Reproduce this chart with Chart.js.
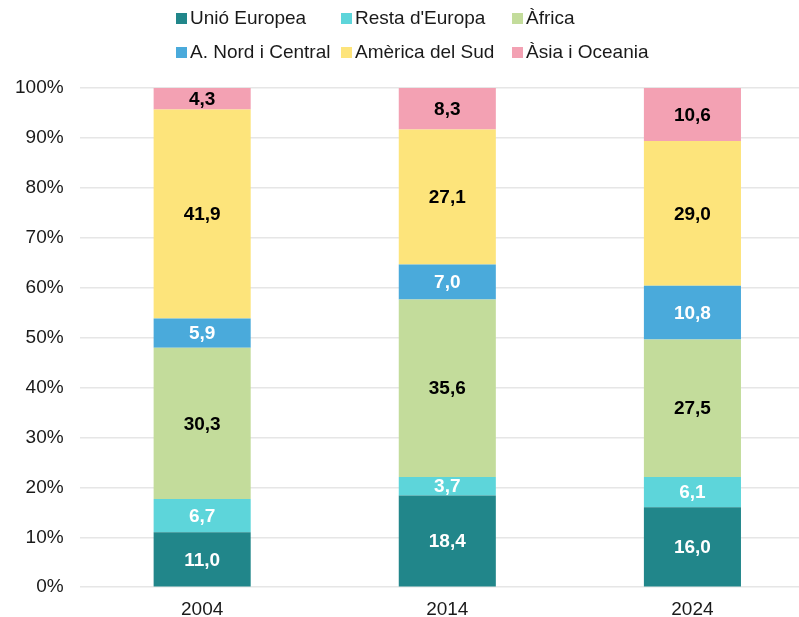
<!DOCTYPE html>
<html>
<head>
<meta charset="utf-8">
<script src="https://cdn.jsdelivr.net/npm/chart.js@4"></script>
<style>
  html, body { margin: 0; padding: 0; background: #fff; overflow: hidden; }
  #wrap { position: relative; width: 799px; height: 617px; overflow: hidden; }
  #legend {
    position: absolute; left: 176px; top: 7px;
    display: grid; grid-template-columns: 165px 171px auto;
    row-gap: 12px;
    font-family: "Liberation Sans", Arial, sans-serif; font-size: 19px; color: #1a1a1a;
    line-height: 22px;
  }
  .item { display: flex; align-items: center; white-space: nowrap; }
  .box { width: 11px; height: 11px; margin-right: 3px; flex: none; }
  canvas { display: block; }
</style>
</head>
<body>
<div id="wrap">
  <canvas id="c" width="815" height="617"></canvas>
  <div id="legend"></div>
</div>
<script>
const categories = ["2004", "2014", "2024"];
const seriesNames = ["Unió Europea", "Resta d'Europa", "Àfrica", "A. Nord i Central", "Amèrica del Sud", "Àsia i Oceania"];
const unioEuropea = [11.0, 18.4, 16.0];
const restaEuropa = [6.7, 3.7, 6.1];
const africa = [30.3, 35.6, 27.5];
const nordCentral = [5.9, 7.0, 10.8];
const americaSud = [41.9, 27.1, 29.0];
const asiaOceania = [4.3, 8.3, 10.6];
const yTicks = [0, 10, 20, 30, 40, 50, 60, 70, 80, 90, 100];

const seriesValues = [unioEuropea, restaEuropa, africa, nordCentral, americaSud, asiaOceania];
const colors = ["#21868a", "#5dd5da", "#c3dc9b", "#4aaadb", "#fde47b", "#f3a1b3"];
const labelColors = ["#ffffff", "#ffffff", "#000000", "#ffffff", "#000000", "#000000"];

const totals = categories.map((_, i) => seriesValues.reduce((s, arr) => s + arr[i], 0));

const datasets = seriesNames.map((name, k) => ({
  label: name,
  data: seriesValues[k].map((v, i) => v / totals[i] * 100),
  raw: seriesValues[k],
  backgroundColor: colors[k],
  borderWidth: 0,
  barPercentage: 0.396,
  categoryPercentage: 1.0,
  labelColor: labelColors[k]
}));

// HTML legend in Excel order (3 columns)
const legendEl = document.getElementById('legend');
seriesNames.forEach((name, k) => {
  const it = document.createElement('div');
  it.className = 'item';
  const b = document.createElement('span');
  b.className = 'box';
  b.style.background = colors[k];
  const t = document.createElement('span');
  t.textContent = name;
  it.appendChild(b); it.appendChild(t);
  legendEl.appendChild(it);
});

const fontFam = '"Liberation Sans", Arial, sans-serif';

const valueLabels = {
  id: 'valueLabels',
  afterDatasetsDraw(chart) {
    const ctx = chart.ctx;
    ctx.save();
    ctx.font = 'bold 19px ' + fontFam;
    ctx.textAlign = 'center';
    ctx.textBaseline = 'middle';
    chart.data.datasets.forEach((ds, di) => {
      const meta = chart.getDatasetMeta(di);
      meta.data.forEach((el, i) => {
        const txt = ds.raw[i].toFixed(1).replace('.', ',');
        ctx.fillStyle = ds.labelColor;
        ctx.fillText(txt, el.x, (el.y + el.base) / 2 + 1);
      });
    });
    ctx.restore();
  }
};

new Chart(document.getElementById('c'), {
  type: 'bar',
  data: { labels: categories, datasets },
  options: {
    responsive: false,
    animation: false,
    layout: { padding: { left: -1, right: 0, top: 88, bottom: -15 } },
    plugins: {
      legend: { display: false },
      tooltip: { enabled: false }
    },
    scales: {
      x: {
        stacked: true,
        grid: { display: false, drawTicks: false },
        border: { display: false },
        ticks: { color: '#1a1a1a', font: { family: fontFam, size: 19 }, padding: 11 }
      },
      y: {
        stacked: true,
        min: 0, max: 100,
        afterBuildTicks(scale) { scale.ticks = yTicks.map(v => ({ value: v })); },
        grid: { color: '#e6e6e6', lineWidth: 1.5, drawTicks: false },
        border: { display: false },
        ticks: {
          color: '#1a1a1a', font: { family: fontFam, size: 19 }, padding: 16,
          callback: v => v + '%'
        }
      }
    }
  },
  plugins: [valueLabels]
});
</script>
</body>
</html>
